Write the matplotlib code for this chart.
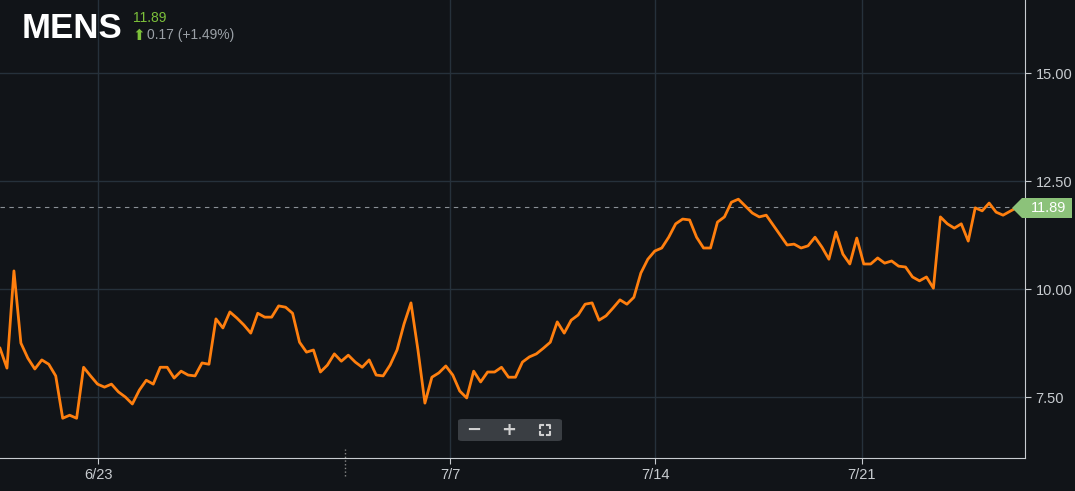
import matplotlib.pyplot as plt
from matplotlib.patches import FancyBboxPatch, Polygon
from matplotlib.lines import Line2D

plt.rcParams['font.family'] = ['Liberation Sans', 'DejaVu Sans']

# price trace (evenly spaced samples)
prices = [8.63, 8.17, 10.42, 8.75, 8.40, 8.15, 8.36, 8.26, 7.99, 7.01, 7.08, 7.01, 8.19, 7.99,
          7.80, 7.73, 7.80, 7.62, 7.50, 7.34, 7.66, 7.89, 7.80, 8.19, 8.19, 7.94, 8.10, 8.01,
          7.99, 8.29, 8.26, 9.31, 9.10, 9.47, 9.33, 9.17, 8.98, 9.44, 9.35, 9.35, 9.61, 9.58,
          9.44, 8.77, 8.54, 8.59, 8.08, 8.24, 8.50, 8.33, 8.47, 8.31, 8.19, 8.36, 8.01, 7.99,
          8.24, 8.59, 9.19, 9.68, 8.59, 7.36, 7.96, 8.06, 8.22, 8.01, 7.64, 7.48, 8.10, 7.85,
          8.08, 8.08, 8.19, 7.96, 7.96, 8.31, 8.43, 8.50, 8.63, 8.77, 9.24, 8.98, 9.28, 9.40,
          9.65, 9.68, 9.28, 9.38, 9.56, 9.75, 9.65, 9.81, 10.37, 10.69, 10.88, 10.95, 11.20,
          11.51, 11.62, 11.60, 11.20, 10.95, 10.95, 11.55, 11.67, 12.01, 12.08, 11.92, 11.76,
          11.67, 11.71, 11.48, 11.25, 11.02, 11.04, 10.95, 11.00, 11.20, 10.97, 10.69, 11.32,
          10.81, 10.58, 11.18, 10.58, 10.58, 10.72, 10.60, 10.65, 10.53, 10.51, 10.28, 10.19,
          10.28, 10.02, 11.67, 11.51, 11.41, 11.51, 11.11, 11.88, 11.81, 11.99, 11.78, 11.71,
          11.80, 11.89]
last_price = 11.89
change = "0.17 (+1.49%)"
x_labels = ["6/23", "7/7", "7/14", "7/21"]
x_label_px = [98, 450, 655, 862]   # pixel positions of the date ticks
y_ticks = [7.5, 10.0, 12.5, 15.0]

bg = "#111418"
grid = "#26313b"
n = len(prices)
end_px = 1017
scale = (n - 1) / end_px
W, H = 1075, 491

fig = plt.figure(figsize=(10.75, 4.91), dpi=100, facecolor=bg)
ax = fig.add_axes([0, 33 / H, 1025 / W, 458 / H], facecolor=bg)
ax.set_xlim(0, 1025 * scale)
ax.set_ylim(6.09, 16.69)

ax.plot(range(n), prices, color="#ff7f0e", lw=2, zorder=3)
ax.axhline(last_price, color="#8a9096", lw=0.8, ls=(0, (4, 4)), zorder=2)

ax.set_xticks([p * scale for p in x_label_px])
ax.set_xticklabels(x_labels)
ax.set_yticks(y_ticks)
ax.set_yticklabels([f"{v:.2f}" for v in y_ticks])
ax.grid(True, color=grid, lw=1)
ax.yaxis.tick_right()
ax.tick_params(colors="#c8ccd0", labelsize=10.5, length=4)
for s in ["top", "left"]:
    ax.spines[s].set_visible(False)
ax.spines["right"].set_color("#c8ccd0")
ax.spines["bottom"].set_color("#c8ccd0")
ax.axvline(345 * scale, ymin=-0.04, ymax=0.02, color="#888", ls=":", lw=1, clip_on=False)

# last price tag
fig.patches.append(Polygon([[1012 / W, 1 - 208 / H], [1022 / W, 1 - 198 / H],
                            [1072 / W, 1 - 198 / H], [1072 / W, 1 - 218 / H],
                            [1022 / W, 1 - 218 / H]], closed=True,
                           transform=fig.transFigure, facecolor="#8cc27a", edgecolor="none"))
fig.text(1049 / W, 1 - 208 / H, f"{last_price:.2f}", color="white", fontsize=10.5,
         ha="center", va="center")

# zoom controls
fig.patches.append(FancyBboxPatch((458 / W, 1 - 441 / H), 104 / W, 22 / H,
                                  boxstyle="round,pad=0,rounding_size=0.004",
                                  transform=fig.transFigure, facecolor="#3a3e43", edgecolor="none"))
for px, s in [(474, "−"), (509, "+")]:
    fig.text(px / W, 1 - 430 / H, s, color="#d0d0d0", fontsize=13, fontweight="bold",
             ha="center", va="center", family="DejaVu Sans")
# fullscreen icon: four corner brackets
cx, cy, r, c = 545, 430, 5, 3
for sx in (-1, 1):
    for sy in (-1, 1):
        x0, y0 = cx + sx * r, cy + sy * r
        fig.lines.append(Line2D([(x0 - sx * c) / W, x0 / W, x0 / W],
                                [1 - y0 / H, 1 - y0 / H, 1 - (y0 - sy * c) / H],
                                transform=fig.transFigure, color="#d0d0d0", lw=1.5))

# header
fig.text(22 / W, 1 - 29 / H, "MENS", color="white", fontsize=25, fontweight="bold", va="center")
fig.text(133 / W, 1 - 18 / H, f"{last_price:.2f}", color="#7cc03a", fontsize=10, va="center")
fig.text(132 / W, 1 - 35 / H, "⬆", color="#7cc03a", fontsize=11, va="center", family="DejaVu Sans")
fig.text(147 / W, 1 - 35 / H, change, color="#9aa0a6", fontsize=10, va="center")

fig.savefig("out.png", dpi=100, facecolor=bg)
